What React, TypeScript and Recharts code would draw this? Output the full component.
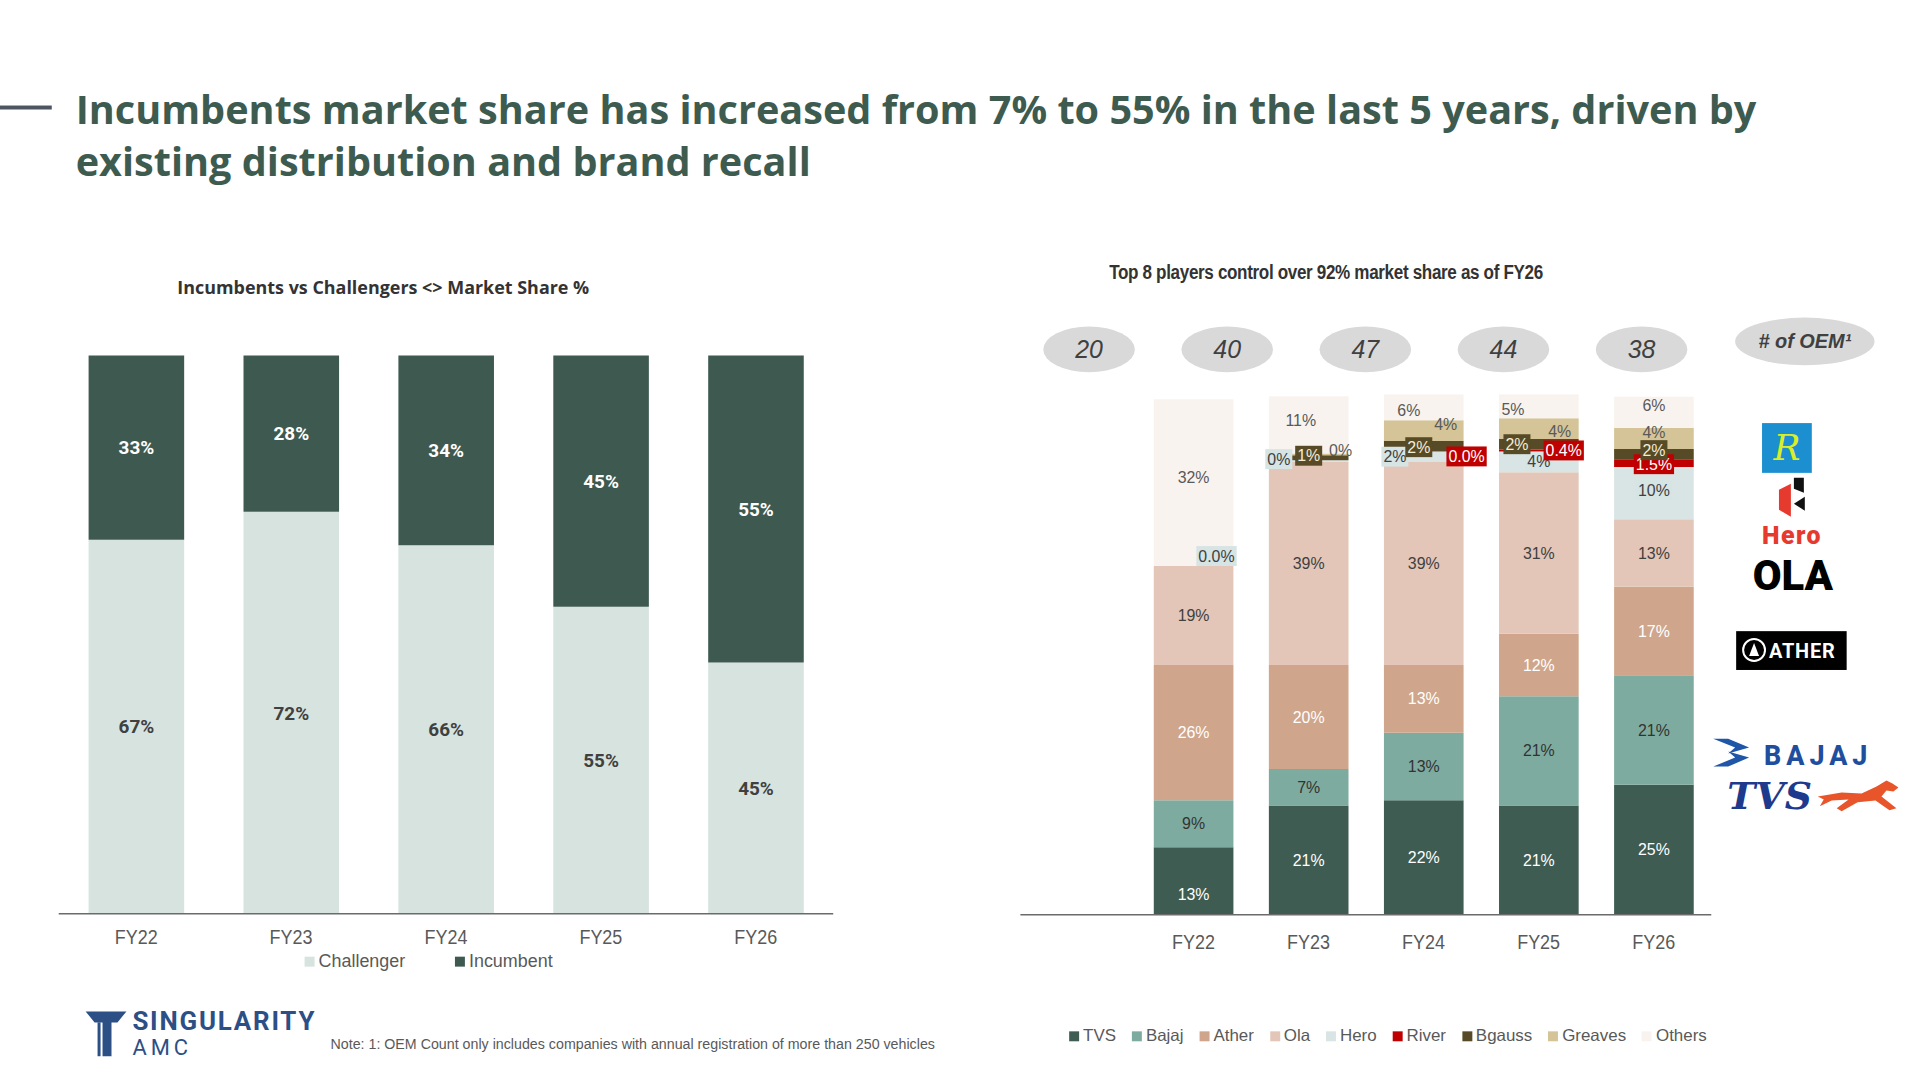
import React from 'react';
import { BarChart, Bar, XAxis, YAxis, LabelList, ScatterChart, Scatter } from 'recharts';

// ---- data ----
const years = ['FY22', 'FY23', 'FY24', 'FY25', 'FY26'];

const challengerShare = [67, 72, 66, 55, 45];
const incumbentShare = [33, 28, 34, 45, 55];

const tvs = [13, 21, 22, 21, 25];
const bajaj = [9, 7, 13, 21, 21];
const ather = [26, 20, 13, 12, 17];
const ola = [19, 39, 39, 31, 13];
const hero = [0.02, 0.3, 2, 4, 10];
const river = [0, 0, 0.02, 0.4, 1.5];
const bgauss = [0, 1, 2, 2, 2];
const greaves = [0, 0.3, 4, 4, 4];
const others = [32, 11, 6, 5, 6];

const oemCount = [20, 40, 47, 44, 38];

// ---- styles ----
const NARROW = "'Liberation Sans Narrow', 'Arial Narrow', 'Liberation Sans', sans-serif";
const ARIAL = "'Liberation Sans', Arial, sans-serif";
const ROBOTO = "Roboto, 'Noto Sans', sans-serif";
const OPEN = "'Open Sans', 'Noto Sans', sans-serif";
const GREEN = '#3e5b50';
const GREY = '#595959';

const pct = (v: number) => `${Math.round(v)}%`;
const pct1 = (v: number) => `${v.toFixed(1)}%`;
const heroPct = (v: number) => (v < 0.05 ? pct1(v) : pct(v));

const leftData = years.map((year, i) => ({
  year,
  challenger: challengerShare[i],
  incumbent: incumbentShare[i],
}));

const leftSeries = [
  { key: 'challenger', name: 'Challenger', color: '#d6e3df', text: '#404040' },
  { key: 'incumbent', name: 'Incumbent', color: '#3e5a50', text: '#ffffff' },
];

const rightValues: Record<string, number[]> = { tvs, bajaj, ather, ola, hero, river, bgauss, greaves, others };

const rightData = years.map((year, i) => {
  const row: Record<string, any> = { year };
  Object.keys(rightValues).forEach((k) => (row[k] = rightValues[k][i]));
  return row;
});

type Seg = { key: string; name: string; color: string; text: string; bg?: string; fmt?: (v: number) => string };

const rightSeries: Seg[] = [
  { key: 'tvs', name: 'TVS', color: '#3e5c52', text: '#ffffff' },
  { key: 'bajaj', name: 'Bajaj', color: '#7eab9f', text: '#333333' },
  { key: 'ather', name: 'Ather', color: '#cfa68b', text: '#ffffff' },
  { key: 'ola', name: 'Ola', color: '#e3c6b7', text: '#404040' },
  { key: 'hero', name: 'Hero', color: '#d9e5e4', text: '#404040', bg: '#d6e4e4', fmt: heroPct },
  { key: 'river', name: 'River', color: '#c00000', text: '#ffffff', bg: '#c00000', fmt: pct1 },
  { key: 'bgauss', name: 'Bgauss', color: '#574a26', text: '#f3ecd6', bg: '#574a26' },
  { key: 'greaves', name: 'Greaves', color: '#d4c497', text: GREY },
  { key: 'others', name: 'Others', color: '#f8f3ef', text: GREY },
];

// label nudges for the thin segments [dx, dy] per year
const labelNudge: Record<string, [number, number][]> = {
  tvs: [[0, 13], [0, 0], [0, 0], [0, 0], [0, 0]],
  hero: [[23, -10], [-30, -2], [-29, 0], [0, 0], [0, -3]],
  river: [[0, 0], [0, 0], [43, 5], [25, 0], [0, 1]],
  bgauss: [[0, 0], [0, -2], [-5, 1], [-22, 0], [0, -4]],
  greaves: [[0, 0], [32, -4], [22, -6], [21, 3], [0, -6]],
  others: [[0, -5], [-8, -5], [-15, 3], [-26, 3], [0, -7]],
};

function textWidth(s: string) {
  let w = 0;
  for (const c of s) w += c === '%' ? 0.889 : c === '.' ? 0.278 : 0.556;
  return w * 16;
}

function segmentLabel(seg: Seg) {
  const vals = rightValues[seg.key];
  const nonZero = vals.map((v, i) => (v ? i : -1)).filter((i) => i >= 0);
  return (props: any) => {
    const vb = props.viewBox ?? props;
    const { x, y, width, height } = vb;
    let yi = years.indexOf(props.value);
    if (yi < 0) yi = nonZero[props.index ?? 0] ?? 0;
    const value = vals[yi];
    if (!value) return null;
    const [dx, dy] = labelNudge[seg.key]?.[yi] ?? [0, 0];
    const cx = x + width / 2 + dx;
    const cy = y + height / 2 + dy;
    const txt = (seg.fmt ?? pct)(value);
    const w = textWidth(txt) + 4;
    return (
      <g>
        {seg.bg && <rect x={cx - w / 2} y={cy - 10} width={w} height={20} fill={seg.bg} />}
        <text x={cx} y={cy} dy="0.35em" textAnchor="middle" fill={seg.text} fontSize={16} fontFamily={ARIAL}>
          {txt}
        </text>
      </g>
    );
  };
}

// condensed-looking category tick
function NarrowTick(props: any) {
  const { x, y, payload } = props;
  return (
    <text
      x={x}
      y={y}
      dy="0.71em"
      textAnchor="middle"
      fill={GREY}
      fontSize={21}
      fontFamily={ARIAL}
      transform={`translate(${x},0) scale(0.86,1) translate(${-x},0)`}
    >
      {payload.value}
    </text>
  );
}

function LeftChart() {
  return (
    <BarChart width={860} height={1000} data={leftData} margin={{ top: 357, right: 23, bottom: 52, left: 59 }}>
      <XAxis
        dataKey="year"
        axisLine={{ stroke: '#6b6b6b', strokeWidth: 1.5 }}
        tickLine={false}
        tickMargin={9}
        tick={<NarrowTick />}
      />
      <YAxis hide domain={[0, 100]} />
      {leftSeries.map((s) => (
        <Bar key={s.key} dataKey={s.key} stackId="a" fill={s.color} barSize={96} isAnimationActive={false}>
          <LabelList
            dataKey={s.key}
            position="center"
            formatter={(v: any) => `${v}%`}
            fill={s.text}
            fontSize={19}
            fontWeight={700}
            fontFamily={ROBOTO}
          />
        </Bar>
      ))}
    </BarChart>
  );
}

function RightChart({ labels }: { labels: boolean }) {
  return (
    <BarChart width={740} height={1000} data={rightData} margin={{ top: 396, right: 21, bottom: 51, left: 25 }}>
      <XAxis
        dataKey="year"
        padding={{ left: 116, right: 0 }}
        axisLine={labels ? false : { stroke: '#6b6b6b', strokeWidth: 1.5 }}
        tickLine={false}
        tickMargin={13}
        tick={labels ? false : <NarrowTick />}
      />
      <YAxis hide domain={[0, 100]} allowDataOverflow />
      {rightSeries.map((s) => (
        <Bar
          key={s.key}
          dataKey={s.key}
          stackId="a"
          fill={labels ? 'transparent' : s.color}
          barSize={80}
          isAnimationActive={false}
        >
          {labels && (
            <LabelList valueAccessor={(entry: any) => entry?.payload?.year} content={segmentLabel(s)} />
          )}
        </Bar>
      ))}
    </BarChart>
  );
}

const bubbleData = oemCount.map((n, i) => ({ i, y: 0.5, n }));

function Bubble(props: any) {
  const { cx, cy, payload } = props;
  return (
    <g>
      <ellipse cx={cx} cy={cy} rx={46} ry={23} fill="#d9d9d9" />
      <text x={cx} y={cy} dy="0.35em" textAnchor="middle" fontSize={25} fontStyle="italic" fill="#404040" fontFamily={ARIAL}>
        {payload.n}
      </text>
    </g>
  );
}

function OemBubbles() {
  return (
    <ScatterChart width={680} height={100} margin={{ top: 0, right: 71, bottom: 0, left: 54 }}>
      <XAxis type="number" dataKey="i" domain={[0, 4]} hide />
      <YAxis type="number" dataKey="y" domain={[0, 1]} hide />
      <Scatter data={bubbleData} shape={<Bubble />} isAnimationActive={false} />
    </ScatterChart>
  );
}

function Logos() {
  return (
    <svg width={1920} height={1080} style={{ position: 'absolute', left: 0, top: 0, pointerEvents: 'none' }}>
      <rect x={0} y={106} width={52} height={4} fill="#4d5562" />

      <ellipse cx={1813} cy={343} rx={70} ry={24} fill="#d9d9d9" />
      <text x={1813} y={343} dy="0.35em" textAnchor="middle" fontSize={20} fontWeight={700} fontStyle="italic" fill="#404040" fontFamily={ARIAL}>
        # of OEM¹
      </text>

      {/* River */}
      <rect x={1770} y={425} width={50} height={50} fill="#1b8fd0" />
      <text x={1795} y={462} textAnchor="middle" fontSize={36} fontStyle="italic" fill="#d9ee2a" fontFamily="'DejaVu Serif', serif">
        R
      </text>

      {/* Hero */}
      <polygon points="1787,492 1799,486 1799,519 1787,512" fill="#e63a2e" />
      <polygon points="1802,480 1812,480 1812,495 1802,491" fill="#111" />
      <polygon points="1813,499 1813,513 1802,506" fill="#111" />
      <text x={1800} y={546} textAnchor="middle" fontSize={25} fontWeight={900} fill="#e63a2e" fontFamily={ROBOTO} letterSpacing={1.5}>
        Hero
      </text>

      {/* Ola */}
      <text x={1801} y={593} textAnchor="middle" fontSize={42} fontWeight={900} fill="#000" fontFamily={ROBOTO}>
        OLA
      </text>

      {/* Ather */}
      <rect x={1744} y={634} width={111} height={39} fill="#000" />
      <circle cx={1762} cy={653} r={11} stroke="#fff" strokeWidth={2} fill="none" />
      <polygon points="1762,646 1767,659 1757,659" fill="#fff" />
      <text x={1777} y={661} fontSize={20} fontWeight={700} fill="#fff" fontFamily={ROBOTO} letterSpacing={0.8}>
        ATHER
      </text>

      {/* Bajaj */}
      <polygon points="1721,742 1736,742 1757,751 1736,757 1743,751" fill="#1f56a8" />
      <polygon points="1721,770 1736,770 1757,761 1736,755 1743,761" fill="#1f56a8" />
      <text x={1772} y={768} fontSize={27} fontWeight={800} fill="#1f4e9e" fontFamily={ROBOTO} letterSpacing={5}>
        BAJAJ
      </text>

      {/* TVS */}
      <text x={1735} y={813} fontSize={38} fontWeight={700} fontStyle="italic" fill="#1d3a8c" fontFamily="'DejaVu Serif', serif">
        TVS
      </text>
      <path
        d="M1826,800 L1850,796 L1870,797 L1885,790 L1895,784 L1901,787 L1907,791 L1902,795 L1895,794 L1890,800 L1905,812 L1898,814 L1884,804 L1866,806 L1850,815 L1845,812 L1857,803 L1840,804 L1828,810 L1832,803 Z"
        fill="#e8552b"
      />

      {/* Singularity AMC */}
      <path d="M86,1016 L127,1016 L118,1027 L112,1027 L112,1061 L103,1061 L103,1027 L95,1027 Z" fill="#2c4f86" />
      <rect x={98} y={1027} width={3} height={34} fill="#2c4f86" />
      <text x={133} y={1035} fontSize={26} fontWeight={700} fill="#2c4f86" fontFamily={ROBOTO} letterSpacing={1.8}>
        SINGULARITY
      </text>
      <text x={133} y={1060} fontSize={22} fill="#2c4f86" fontFamily={ROBOTO} letterSpacing={4}>
        AMC
      </text>
    </svg>
  );
}

function Legend({ items, style, gap }: { items: { key: string; name: string; color: string }[]; style: React.CSSProperties; gap: number }) {
  return (
    <div style={{ position: 'absolute', display: 'flex', alignItems: 'center', gap, fontFamily: NARROW, color: GREY, ...style }}>
      {items.map((it) => (
        <div key={it.key} style={{ display: 'flex', alignItems: 'center', gap: 4 }}>
          <span style={{ width: 10, height: 10, background: it.color, display: 'inline-block' }} />
          <span>{it.name}</span>
        </div>
      ))}
    </div>
  );
}

export default function App() {
  return (
    <div
      style={{
        position: 'absolute',
        left: 0,
        top: 0,
        width: 1920,
        height: 1080,
        background: '#fff',
        overflow: 'hidden',
        transform: 'scale(0.9955)',
        transformOrigin: '0 0',
      }}
    >
      <div
        style={{
          position: 'absolute',
          left: 76,
          top: 84,
          fontFamily: OPEN,
          fontWeight: 700,
          fontSize: 39.8,
          lineHeight: '52px',
          color: GREEN,
          whiteSpace: 'nowrap',
        }}
      >
        Incumbents market share has increased from 7% to 55% in the last 5 years, driven by
        <br />
        existing distribution and brand recall
      </div>

      <div
        style={{
          position: 'absolute',
          left: 85,
          width: 600,
          top: 276,
          textAlign: 'center',
          fontFamily: OPEN,
          fontWeight: 700,
          fontSize: 18,
          color: '#333',
        }}
      >
        Incumbents vs Challengers &lt;&gt; Market Share %
      </div>

      <div
        style={{
          position: 'absolute',
          left: 1032,
          width: 600,
          top: 262,
          textAlign: 'center',
          fontFamily: ARIAL,
          fontWeight: 700,
          fontSize: 19.5,
          letterSpacing: -0.4,
          color: '#333',
          transform: 'scaleX(0.88)',
          transformOrigin: 'center',
        }}
      >
        Top 8 players control over 92% market share as of FY26
      </div>

      <div style={{ position: 'absolute', left: 0, top: 0 }}>
        <LeftChart />
      </div>
      <Legend items={leftSeries} gap={50} style={{ left: 306, top: 955, fontSize: 18 }} />

      <div style={{ position: 'absolute', left: 1000, top: 0 }}>
        <RightChart labels={false} />
      </div>
      <div style={{ position: 'absolute', left: 1000, top: 0 }}>
        <RightChart labels />
      </div>
      <div style={{ position: 'absolute', left: 1040, top: 301 }}>
        <OemBubbles />
      </div>
      <Legend items={rightSeries} gap={16} style={{ left: 1074, top: 1031, fontSize: 17 }} />

      <Logos />

      <div style={{ position: 'absolute', left: 332, top: 1041, fontFamily: NARROW, fontSize: 14.3, color: GREY, whiteSpace: 'nowrap' }}>
        Note: 1: OEM Count only includes companies with annual registration of more than 250 vehicles
      </div>
    </div>
  );
}
